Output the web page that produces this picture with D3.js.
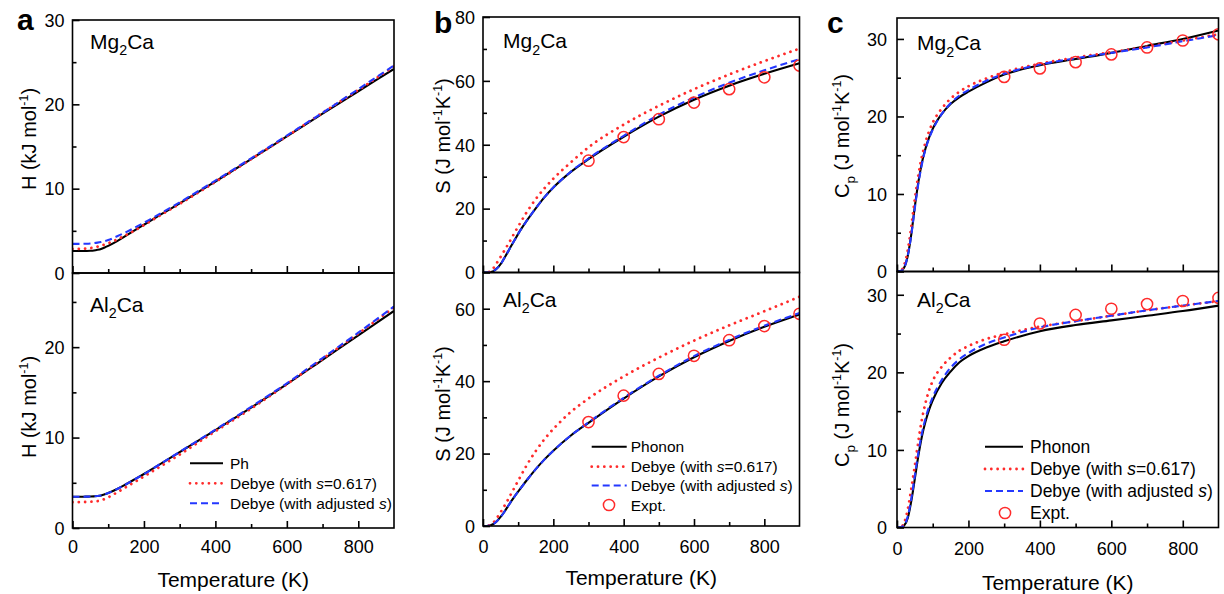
<!DOCTYPE html>
<html>
<head>
<meta charset="utf-8">
<script src="https://cdn.jsdelivr.net/npm/d3@7"></script>
<style>
  body { margin: 0; background: #fff; }
  svg { display: block; font-family: "Liberation Sans", Arial, Helvetica, sans-serif; }
</style>
</head>
<body>
<svg id="chart" width="1224" height="594"></svg>
<script>
// ---- data -------------------------------------------------------------
const temperature = [0, 10, 20, 30, 40, 50, 60, 70, 80, 90, 100, 125, 150, 175, 200, 250, 300, 400, 500, 600, 700, 800, 900];
const exptTemperature = [300, 400, 500, 600, 700, 800, 900];
const xMajorTicks = [0, 200, 400, 600, 800];
const xMinorTicks = [100, 300, 500, 700];

// Enthalpy H (kJ/mol)
const hMg2CaPhonon   = [2.60, 2.60, 2.60, 2.60, 2.61, 2.63, 2.67, 2.75, 2.86, 3.03, 3.22, 3.78, 4.42, 5.08, 5.72, 7.00, 8.25, 10.85, 13.50, 16.20, 18.90, 21.55, 24.20];
const hMg2CaDebye    = [2.85, 2.85, 2.86, 2.88, 2.90, 2.95, 3.02, 3.12, 3.25, 3.38, 3.52, 3.98, 4.50, 5.07, 5.68, 6.95, 8.20, 10.80, 13.50, 16.20, 19.00, 21.70, 24.50];
const hMg2CaAdjusted = [3.45, 3.45, 3.45, 3.46, 3.47, 3.50, 3.54, 3.60, 3.68, 3.78, 3.90, 4.35, 4.85, 5.40, 5.95, 7.15, 8.38, 10.95, 13.60, 16.30, 19.00, 21.80, 24.60];
const hAl2CaPhonon   = [3.46, 3.46, 3.46, 3.46, 3.47, 3.48, 3.50, 3.53, 3.60, 3.72, 3.86, 4.31, 4.84, 5.40, 5.97, 7.17, 8.40, 10.82, 13.30, 15.90, 18.60, 21.30, 24.00];
const hAl2CaDebye    = [2.85, 2.85, 2.86, 2.87, 2.88, 2.90, 2.93, 2.98, 3.07, 3.21, 3.39, 3.94, 4.53, 5.11, 5.70, 6.90, 8.12, 10.70, 13.20, 15.90, 18.70, 21.50, 24.40];
const hAl2CaAdjusted = [3.46, 3.46, 3.46, 3.46, 3.47, 3.48, 3.50, 3.53, 3.60, 3.72, 3.86, 4.31, 4.84, 5.40, 5.97, 7.18, 8.42, 10.87, 13.40, 16.00, 18.80, 21.60, 24.50];

// Entropy S (J/mol/K)
const sMg2CaPhonon   = [0, 0, 0.10, 0.45, 1.30, 2.60, 4.40, 6.30, 8.30, 10.20, 12.10, 16.30, 20.10, 23.60, 26.60, 31.50, 35.50, 42.50, 48.80, 54.10, 58.50, 62.20, 65.50];
const sMg2CaDebye    = [0, 0.02, 0.30, 1.40, 3.10, 4.90, 6.70, 8.60, 10.50, 12.50, 14.40, 19.00, 23.00, 26.40, 29.40, 34.50, 39.20, 46.30, 52.20, 57.40, 62.00, 66.20, 70.10];
const sMg2CaAdjusted = [0, 0, 0.10, 0.45, 1.30, 2.60, 4.40, 6.30, 8.30, 10.20, 12.10, 16.30, 20.10, 23.60, 26.60, 31.60, 35.70, 42.80, 49.40, 54.80, 59.40, 63.30, 66.80];
const sMg2CaExpt     = [35.0, 42.4, 48.0, 53.2, 57.4, 61.1, 64.8];
const sAl2CaPhonon   = [0, 0, 0.15, 0.60, 1.40, 2.50, 3.80, 5.30, 6.80, 8.20, 9.50, 12.70, 15.70, 18.40, 20.80, 25.00, 28.50, 35.20, 41.30, 46.60, 51.10, 55.00, 58.40];
const sAl2CaDebye    = [0, 0.02, 0.25, 1.00, 2.30, 3.80, 5.40, 7.10, 8.90, 10.70, 12.50, 16.90, 20.70, 24.00, 26.80, 31.50, 35.20, 41.30, 46.50, 51.20, 55.40, 59.30, 63.30];
const sAl2CaAdjusted = [0, 0, 0.15, 0.60, 1.40, 2.50, 3.80, 5.30, 6.80, 8.20, 9.50, 12.70, 15.70, 18.40, 20.80, 25.00, 28.60, 35.40, 41.50, 46.90, 51.40, 55.30, 58.80];
const sAl2CaExpt     = [28.7, 36.0, 42.0, 47.0, 51.3, 55.2, 58.6];

// Heat capacity Cp (J/mol/K)
const cpMg2CaPhonon   = [0, 0.05, 0.50, 2.00, 4.80, 8.40, 11.60, 14.10, 15.90, 17.30, 18.40, 20.30, 21.60, 22.50, 23.20, 24.40, 25.40, 26.60, 27.40, 28.20, 29.10, 30.00, 31.10];
const cpMg2CaDebye    = [0, 0.10, 0.80, 2.70, 5.80, 9.40, 12.50, 14.90, 16.70, 18.10, 19.20, 21.00, 22.30, 23.20, 23.90, 24.90, 25.70, 26.80, 27.60, 28.30, 29.00, 29.80, 30.60];
const cpMg2CaAdjusted = [0, 0.05, 0.50, 2.00, 4.70, 8.20, 11.40, 13.90, 15.80, 17.20, 18.30, 20.30, 21.70, 22.70, 23.40, 24.60, 25.50, 26.70, 27.50, 28.20, 28.90, 29.70, 30.50];
const cpMg2CaExpt     = [25.1, 26.2, 27.0, 28.0, 28.9, 29.8, 30.6];
const cpAl2CaPhonon   = [0, 0.02, 0.25, 1.20, 3.40, 6.30, 9.30, 11.80, 13.70, 15.20, 16.40, 18.60, 20.10, 21.30, 22.10, 23.20, 24.00, 25.30, 26.10, 26.70, 27.30, 27.90, 28.60];
const cpAl2CaDebye    = [0, 0.05, 0.60, 2.30, 5.00, 8.00, 11.20, 14.00, 16.10, 17.70, 18.90, 20.70, 21.90, 22.80, 23.40, 24.30, 24.90, 25.90, 26.60, 27.30, 28.00, 28.60, 29.20];
const cpAl2CaAdjusted = [0, 0.02, 0.30, 1.40, 3.70, 6.70, 9.70, 12.20, 14.10, 15.60, 16.80, 19.00, 20.60, 21.70, 22.50, 23.70, 24.50, 25.80, 26.60, 27.30, 28.00, 28.60, 29.20];
const cpAl2CaExpt     = [24.2, 26.3, 27.4, 28.2, 28.8, 29.2, 29.6];

// ---- text helpers -----------------------------------------------------
// parts: [text, mode] where mode is undefined | "sub" | "sup" | "it"
function richText(textSel, parts, size) {
  let shift = 0;
  parts.forEach(([t, mode]) => {
    let target = 0, fs = size, style = null;
    if (mode === "sub") { target = size * 0.32; fs = size * 0.68; }
    if (mode === "sup") { target = -size * 0.38; fs = size * 0.62; }
    if (mode === "it") { style = "italic"; }
    const ts = textSel.append("tspan").text(t)
      .attr("dy", target - shift)
      .attr("font-size", fs);
    if (style) ts.attr("font-style", style);
    shift = target;
  });
}

const RED = "#ff2b2b", BLUE = "#2438ff", BLACK = "#000";
const styles = {
  phonon:   { stroke: BLACK, width: 2.1, dash: null, cap: "butt" },
  debye:    { stroke: RED,   width: 2.8, dash: "0.01,6.3", cap: "round" },
  adjusted: { stroke: BLUE,  width: 2.1, dash: "7,4", cap: "butt" }
};

const mgLabel = [["Mg"], ["2", "sub"], ["Ca"]];
const alLabel = [["Al"], ["2", "sub"], ["Ca"]];
const hTitle  = [["H (kJ mol"], ["-1", "sup"], [")"]];
const sTitle  = [["S (J mol"], ["-1", "sup"], ["K"], ["-1", "sup"], [")"]];
const cTitle  = [["C"], ["p", "sub"], [" (J mol"], ["-1", "sup"], ["K"], ["-1", "sup"], [")"]];

const panels = [
  {
    letter: "a", letterPos: [17, 30], x0: 72.5, x1: 394, tickGap: 8, xLabelY: 553, xTitleY: 587,
    yTitleX: 36, legend: { font: 15.5, rows: [463.3, 483.3, 503.3], lx: [190, 223], tx: 230, cx: 206, phonon: "Ph" },
    rows: [
      { top: 20, bot: 273, domain: [0, 30], major: [0, 10, 20, 30], minor: [5, 15, 25], title: hTitle, titleY: 139,
        label: mgLabel, labelPos: [90, 48.5], ph: hMg2CaPhonon, db: hMg2CaDebye, ad: hMg2CaAdjusted, ex: null },
      { top: 273, bot: 528, domain: [0, 28.2], major: [0, 10, 20], minor: [5, 15, 25], title: hTitle, titleY: 407,
        label: alLabel, labelPos: [90, 311.5], ph: hAl2CaPhonon, db: hAl2CaDebye, ad: hAl2CaAdjusted, ex: null }
    ]
  },
  {
    letter: "b", letterPos: [434, 33], x0: 483, x1: 799.5, tickGap: 8, xLabelY: 553, xTitleY: 585,
    yTitleX: 450, legend: { font: 15.5, rows: [446.7, 466.7, 485.5, 505], lx: [591.7, 626.7], tx: 630.7, cx: 609, phonon: "Phonon" },
    rows: [
      { top: 17, bot: 272.5, domain: [0, 80], major: [0, 20, 40, 60, 80], minor: [10, 30, 50, 70], title: sTitle, titleY: 136,
        label: mgLabel, labelPos: [503, 48.3], ph: sMg2CaPhonon, db: sMg2CaDebye, ad: sMg2CaAdjusted, ex: sMg2CaExpt },
      { top: 272.5, bot: 526, domain: [0, 70], major: [0, 20, 40, 60], minor: [10, 30, 50], title: sTitle, titleY: 404,
        label: alLabel, labelPos: [503, 306.7], ph: sAl2CaPhonon, db: sAl2CaDebye, ad: sAl2CaAdjusted, ex: sAl2CaExpt }
    ]
  },
  {
    letter: "c", letterPos: [827, 33], x0: 897, x1: 1218.5, tickGap: 10, xLabelY: 555, xTitleY: 590,
    yTitleX: 849, legend: { font: 17.5, rows: [446.7, 469, 491, 513], lx: [985, 1023], tx: 1030, cx: 1005, phonon: "Phonon" },
    rows: [
      { top: 18, bot: 271.5, domain: [0, 32.7], major: [0, 10, 20, 30], minor: [5, 15, 25], title: cTitle, titleY: 136,
        label: mgLabel, labelPos: [917, 50], ph: cpMg2CaPhonon, db: cpMg2CaDebye, ad: cpMg2CaAdjusted, ex: cpMg2CaExpt },
      { top: 271.5, bot: 527.5, domain: [0, 33], major: [0, 10, 20, 30], minor: [5, 15, 25], title: cTitle, titleY: 405,
        label: alLabel, labelPos: [917, 306.7], ph: cpAl2CaPhonon, db: cpAl2CaDebye, ad: cpAl2CaAdjusted, ex: cpAl2CaExpt }
    ]
  }
];

// ---- drawing ----------------------------------------------------------
const svg = d3.select("#chart");
const defs = svg.append("defs");

panels.forEach((p, pi) => {
  const x = d3.scaleLinear().domain([0, 900]).range([p.x0, p.x1]);

  // panel letter
  svg.append("text").attr("x", p.letterPos[0]).attr("y", p.letterPos[1])
    .attr("font-size", 30).attr("font-weight", "bold").text(p.letter);

  p.rows.forEach((r, ri) => {
    const y = d3.scaleLinear().domain(r.domain).range([r.bot, r.top]);
    const g = svg.append("g");
    const clipId = `clip-${pi}-${ri}`;
    defs.append("clipPath").attr("id", clipId).append("rect")
      .attr("x", p.x0).attr("y", r.top).attr("width", p.x1 - p.x0).attr("height", r.bot - r.top);

    const plot = g.append("g").attr("clip-path", `url(#${clipId})`);

    const line = (vals) => d3.line()
      .x((d, i) => x(temperature[i]))
      .y(d => y(d))
      .curve(d3.curveMonotoneX)(vals);

    const drawSeries = (vals, st) => {
      const path = plot.append("path").attr("d", line(vals))
        .attr("fill", "none").attr("stroke", st.stroke)
        .attr("stroke-width", st.width).attr("stroke-linecap", st.cap)
        .attr("stroke-linejoin", "round");
      if (st.dash) path.attr("stroke-dasharray", st.dash);
    };
    drawSeries(r.ph, styles.phonon);
    drawSeries(r.db, styles.debye);
    drawSeries(r.ad, styles.adjusted);

    if (r.ex) {
      plot.selectAll("circle.expt").data(r.ex).enter().append("circle")
        .attr("class", "expt")
        .attr("cx", (d, i) => x(exptTemperature[i]))
        .attr("cy", d => y(d))
        .attr("r", 5.6).attr("fill", "none").attr("stroke", RED).attr("stroke-width", 1.5);
    }

    // frame
    g.append("rect").attr("x", p.x0).attr("y", r.top)
      .attr("width", p.x1 - p.x0).attr("height", r.bot - r.top)
      .attr("fill", "none").attr("stroke", "#000").attr("stroke-width", 1.6);

    // y axis (inward ticks)
    const yMajor = d3.axisLeft(y).tickValues(r.major).tickSize(-7).tickPadding(p.tickGap)
      .tickFormat(d3.format("d"));
    const yAx = g.append("g").attr("transform", `translate(${p.x0},0)`).call(yMajor);
    const yMinor = d3.axisLeft(y).tickValues(r.minor).tickSize(-4).tickFormat("");
    const yAxMin = g.append("g").attr("transform", `translate(${p.x0},0)`).call(yMinor);

    // x axis ticks along the bottom of each row (inward)
    const xMajor = d3.axisBottom(x).tickValues(xMajorTicks).tickSize(-7).tickPadding(12)
      .tickFormat(ri === 1 ? d3.format("d") : "");
    const xAx = g.append("g").attr("transform", `translate(0,${r.bot})`).call(xMajor);
    const xMinor = d3.axisBottom(x).tickValues(xMinorTicks).tickSize(-4).tickFormat("");
    const xAxMin = g.append("g").attr("transform", `translate(0,${r.bot})`).call(xMinor);

    [yAx, yAxMin, xAx, xAxMin].forEach(a => {
      a.select(".domain").remove();
      a.selectAll(".tick line").attr("stroke", "#000").attr("stroke-width", 1.6);
      a.selectAll(".tick text").attr("font-size", 18).attr("fill", "#000")
        .attr("font-family", "Liberation Sans, Arial, sans-serif");
    });
    xAx.selectAll(".tick text").attr("y", p.xLabelY - r.bot).attr("dy", 0);
    yAx.selectAll(".tick text").attr("dy", "0.35em");

    // compound label
    const lab = g.append("text").attr("x", r.labelPos[0]).attr("y", r.labelPos[1]).attr("font-size", 21);
    richText(lab, r.label, 21);

    // y title
    const yt = g.append("text")
      .attr("transform", `translate(${p.yTitleX},${r.titleY}) rotate(-90)`)
      .attr("text-anchor", "middle").attr("font-size", 20);
    richText(yt, r.title, 20);
  });

  // x title
  svg.append("text").attr("x", (p.x0 + p.x1) / 2).attr("y", p.xTitleY)
    .attr("text-anchor", "middle").attr("font-size", 21).text("Temperature (K)");

  // legend
  const L = p.legend, lg = svg.append("g");
  const entries = [
    { key: "phonon", parts: [[L.phonon]] },
    { key: "debye", parts: [["Debye (with "], ["s", "it"], ["=0.617)"]] },
    { key: "adjusted", parts: [["Debye (with adjusted "], ["s", "it"], [")"]] }
  ];
  if (L.rows.length === 4) entries.push({ key: "expt", parts: [["Expt."]] });
  entries.forEach((e, i) => {
    const yy = L.rows[i];
    if (e.key === "expt") {
      lg.append("circle").attr("cx", L.cx).attr("cy", yy).attr("r", 5.6)
        .attr("fill", "none").attr("stroke", RED).attr("stroke-width", 1.5);
    } else {
      const st = styles[e.key];
      const ln = lg.append("line").attr("x1", L.lx[0]).attr("x2", L.lx[1]).attr("y1", yy).attr("y2", yy)
        .attr("stroke", st.stroke).attr("stroke-width", st.width).attr("stroke-linecap", st.cap);
      if (st.dash) ln.attr("stroke-dasharray", st.dash);
    }
    const t = lg.append("text").attr("x", L.tx).attr("y", yy + L.font * 0.36).attr("font-size", L.font);
    richText(t, e.parts, L.font);
  });
});
</script>
</body>
</html>
